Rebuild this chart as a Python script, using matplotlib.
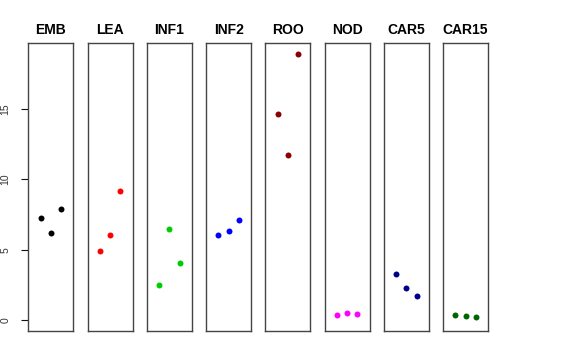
import matplotlib
matplotlib.use("Agg")
import matplotlib.pyplot as plt

plt.rcParams['font.family'] = ['Liberation Sans', 'DejaVu Sans']

categories = ["EMB", "LEA", "INF1", "INF2", "ROO", "NOD", "CAR5", "CAR15"]
colors = ["#000000", "#FF0000", "#00CD00", "#0000FF", "#8B0000", "#FF00FF", "#00008B", "#006400"]
values = {
    "EMB":   [7.23, 6.21, 7.87],
    "LEA":   [4.93, 6.05, 9.15],
    "INF1":  [2.51, 6.45, 4.03],
    "INF2":  [6.05, 6.33, 7.14],
    "ROO":   [14.65, 11.73, 18.94],
    "NOD":   [0.36, 0.52, 0.40],
    "CAR5":  [3.27, 2.25, 1.69],
    "CAR15": [0.38, 0.26, 0.23],
}
yticks = [0, 5, 10, 15]

W, H = 576, 360
fig = plt.figure(figsize=(W / 100, H / 100), dpi=100)

left0 = 28.3
step = 59.25
pw = 45.0
bottom_px = 29.0
top_px = 43.3
ph = H - top_px - bottom_px

for i, (cat, col) in enumerate(zip(categories, colors)):
    ax = fig.add_axes([(left0 + i * step) / W, bottom_px / H, pw / W, ph / H])
    ys = values[cat]
    xs = list(range(1, len(ys) + 1))
    ax.plot(xs, ys, linestyle='none', marker='o', markersize=4.3,
            color=col, markeredgewidth=0)
    ax.set_xlim(-0.2, 4.2)
    ax.set_ylim(-0.78, 19.68)
    ax.set_xticks([])
    ax.set_title(cat, fontsize=10, fontweight='bold', pad=7)
    for s in ax.spines.values():
        s.set_color('#444444')
        s.set_linewidth(1.0)
    if i == 0:
        ax.set_yticks(yticks)
        ax.set_yticklabels([str(t) for t in yticks], rotation=90, va='center',
                           fontsize=7.5, color='#333333')
        ax.tick_params(axis='y', length=5, width=0.8, pad=8, color='#111111')
    else:
        ax.set_yticks([])

fig.savefig("out.png", dpi=100)
